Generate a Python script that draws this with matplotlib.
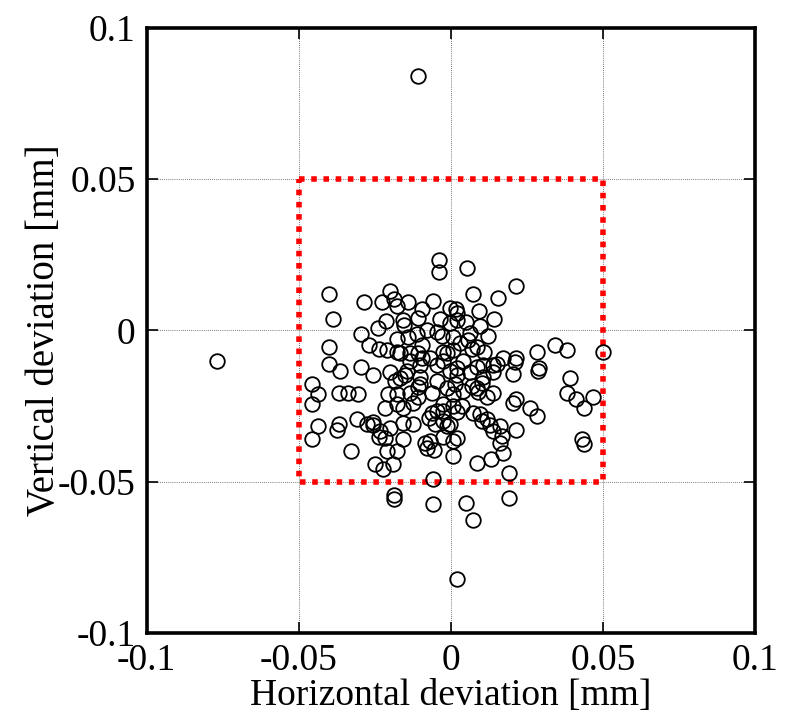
import matplotlib
matplotlib.use("Agg")
import matplotlib.pyplot as plt

plt.rcParams['font.family'] = ['Liberation Serif', 'DejaVu Serif']
plt.rcParams['axes.unicode_minus'] = False

# deviation of each measured point [mm]
x_dev = [
    -0.0039, -0.0039, -0.0401, -0.0286, -0.0388, -0.0201, -0.0188, -0.0178, -0.0227, -0.0141,
    -0.0059, -0.0095, -0.0109, -0.0036, -0.0003, 0.0016, -0.0214, -0.0158, -0.0155, -0.0240,
    -0.0296, -0.0270, -0.0237, -0.0178, -0.0141, -0.0112, -0.0079, -0.0046, -0.0401, -0.0401,
    -0.0365, -0.0296, -0.0211, -0.0168, -0.0135, -0.0095, -0.0095, -0.0026, 0.0007, 0.0053,
    0.0214, 0.0072, 0.0155, 0.0092, 0.0141, 0.0020, 0.0049, 0.0095, 0.0122, 0.0056,
    0.0086, 0.0069, -0.0013, -0.0026, 0.0171, 0.0214, 0.0283, 0.0342, 0.0382, 0.0500,
    0.0290, 0.0138, 0.0105, -0.0257, -0.0457, -0.0438, -0.0457, -0.0368, -0.0339, -0.0306,
    -0.0207, -0.0217, -0.0178, -0.0158, -0.0135, -0.0168, -0.0151, -0.0109, -0.0102, -0.0063,
    -0.0046, -0.0026, -0.0013, 0.0007, -0.0438, -0.0457, -0.0368, -0.0375, -0.0309, -0.0276,
    -0.0257, -0.0234, -0.0201, -0.0237, -0.0217, -0.0158, -0.0125, -0.0158, -0.0329, -0.0211,
    -0.0178, -0.0250, -0.0224, -0.0191, -0.0086, -0.0079, -0.0056, -0.0059, 0.0007, 0.0007,
    -0.0072, -0.0046, -0.0026, -0.0003, -0.0053, 0.0286, 0.0392, 0.0382, 0.0411, 0.0438,
    0.0467, 0.0204, 0.0151, 0.0211, 0.0260, 0.0283, 0.0204, 0.0214, 0.0138, 0.0118,
    0.0086, 0.0069, 0.0102, 0.0039, 0.0013, 0.0007, 0.0036, 0.0072, 0.0095, 0.0118,
    0.0161, 0.0138, 0.0102, 0.0168, 0.0161, 0.0214, 0.0171, 0.0132, 0.0086, 0.0191,
    -0.0026, -0.0013, 0.0431, 0.0438, -0.0188, -0.0188, -0.0059, 0.0049, 0.0072, 0.0191,
    0.0020, -0.0109, -0.0770, -0.0030, -0.0003, -0.0178, -0.0135, -0.0109, -0.0102, -0.0069,
    -0.0046, -0.0145, -0.0003, -0.0201, 0.0020, 0.0007, 0.0063, 0.0030, 0.0109, 0.0039,
    0.0086, 0.0020, -0.0184, -0.0102, -0.0178, -0.0109, -0.0125, -0.0063, -0.0257, -0.0069,
    -0.0026, 0.0020, 0.0063, 0.0105, 0.0138, 0.0089, 0.0020, 0.0128, 0.0020,
]
y_dev = [
    0.0232, 0.0193, 0.0120, 0.0093, 0.0037, 0.0129, 0.0103, 0.0080, 0.0093, 0.0093,
    0.0096, 0.0070, 0.0040, 0.0037, 0.0073, 0.0070, 0.0030, 0.0033, 0.0017, 0.0007,
    -0.0013, -0.0050, -0.0060, -0.0027, -0.0023, -0.0013, 0.0000, -0.0007, -0.0056, -0.0110,
    -0.0133, -0.0120, -0.0066, -0.0076, -0.0076, -0.0050, -0.0090, -0.0073, -0.0066, 0.0206,
    0.0146, 0.0120, 0.0106, 0.0063, 0.0037, 0.0033, 0.0027, 0.0013, -0.0017, -0.0033,
    -0.0056, -0.0060, -0.0076, -0.0100, -0.0090, -0.0093, -0.0073, -0.0050, -0.0066, -0.0070,
    -0.0126, -0.0116, -0.0116, -0.0149, -0.0176, -0.0209, -0.0242, -0.0206, -0.0206, -0.0209,
    -0.0209, -0.0256, -0.0242, -0.0256, -0.0206, -0.0159, -0.0149, -0.0222, -0.0176, -0.0206,
    -0.0166, -0.0242, -0.0189, -0.0209, -0.0315, -0.0359, -0.0309, -0.0329, -0.0292, -0.0309,
    -0.0312, -0.0332, -0.0322, -0.0352, -0.0355, -0.0305, -0.0309, -0.0359, -0.0398, -0.0398,
    -0.0398, -0.0442, -0.0458, -0.0442, -0.0372, -0.0388, -0.0395, -0.0491, -0.0365, -0.0415,
    -0.0289, -0.0266, -0.0266, -0.0309, -0.0309, -0.0133, -0.0156, -0.0206, -0.0226, -0.0256,
    -0.0222, -0.0143, -0.0110, -0.0106, -0.0256, -0.0282, -0.0239, -0.0226, -0.0206, -0.0222,
    -0.0189, -0.0183, -0.0173, -0.0199, -0.0176, -0.0249, -0.0249, -0.0272, -0.0276, -0.0292,
    -0.0315, -0.0332, -0.0299, -0.0349, -0.0372, -0.0329, -0.0405, -0.0425, -0.0438, -0.0471,
    -0.0299, -0.0315, -0.0359, -0.0375, -0.0544, -0.0558, -0.0574, -0.0571, -0.0627, -0.0554,
    -0.0823, 0.0843, -0.0100, -0.0017, 0.0023, -0.0073, -0.0100, -0.0076, -0.0113, -0.0093,
    -0.0113, -0.0133, -0.0133, -0.0139, 0.0056, -0.0023, -0.0010, -0.0043, -0.0070, -0.0100,
    -0.0120, -0.0123, -0.0166, -0.0153, -0.0209, -0.0186, -0.0239, -0.0272, -0.0302, -0.0365,
    -0.0352, -0.0146, -0.0139, -0.0153, -0.0139, -0.0203, -0.0269, -0.0312, -0.0355,
]

# tolerance box [mm]
box_x = [-0.05, 0.05, 0.05, -0.05, -0.05]
box_y = [0.05, 0.05, -0.05, -0.05, 0.05]

ticks = [-0.1, -0.05, 0, 0.05, 0.1]
tick_labels = ["-0.1", "-0.05", "0", "0.05", "0.1"]

fig = plt.figure(figsize=(7.93, 7.19), dpi=100)
ax = fig.add_axes([0.185, 0.120, 0.767, 0.841])

ax.plot(x_dev, y_dev, 'o', markersize=10.5, markerfacecolor='none',
        markeredgecolor='black', markeredgewidth=1.3, zorder=3)
ax.plot(box_x, box_y, color='red', linewidth=4.0, linestyle=(0, (1, 1.2)),
        dash_capstyle='butt', zorder=2)

ax.set_xlim(-0.1, 0.1)
ax.set_ylim(-0.1, 0.1)
ax.set_xticks(ticks)
ax.set_xticklabels(tick_labels)
ax.set_yticks(ticks)
ax.set_yticklabels(tick_labels)
ax.grid(True, color='black', linestyle=(0, (1, 1.5)), linewidth=0.6, alpha=0.7)
ax.tick_params(direction='in', length=8, width=1.2, top=True, right=True,
               labelsize=27, pad=8)
for s in ax.spines.values():
    s.set_linewidth(2.6)

ax.set_xlabel("Horizontal deviation [mm]", fontsize=27, labelpad=0)
ax.set_ylabel("Vertical deviation [mm]", fontsize=28, labelpad=-4)

fig.savefig("out.png", dpi=100)
